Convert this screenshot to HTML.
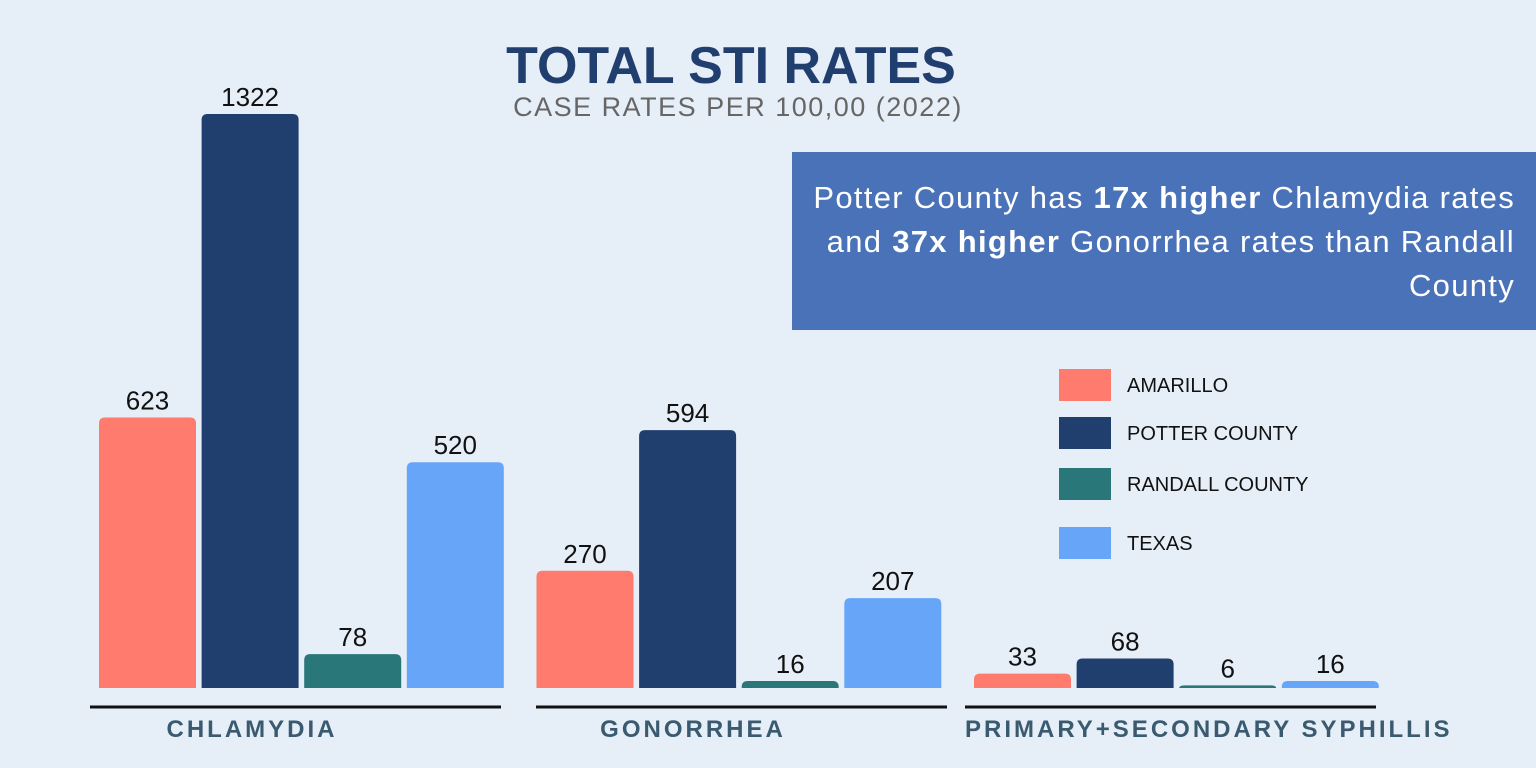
<!DOCTYPE html>
<html><head><meta charset="utf-8"><style>
body{margin:0;width:1536px;height:768px;background:#e6eef8;overflow:hidden;font-family:"Liberation Sans",sans-serif;position:relative}
.t{position:absolute;white-space:nowrap}
</style></head><body>
<div class="t" style="left:0;width:1462px;text-align:center;top:36px;font-size:52px;font-weight:bold;color:#213f6e">TOTAL STI RATES</div>
<div class="t" style="left:0;width:1476px;text-align:center;top:92px;font-size:27px;letter-spacing:1.5px;color:#666">CASE RATES PER 100,00 (2022)</div>
<div style="position:absolute;left:792px;top:152px;width:744px;height:178px;background:#4a72b8"></div>
<div class="t" style="right:21px;top:176px;text-align:right;font-size:31px;letter-spacing:1.3px;line-height:44px;color:#fff">Potter County has <b>17x higher</b> Chlamydia rates<br>and <b>37x higher</b> Gonorrhea rates than Randall<br>County</div>
<svg id="c" width="1536" height="768" style="position:absolute;left:0;top:0"></svg>
<script>
const categories=["CHLAMYDIA","GONORRHEA","PRIMARY+SECONDARY SYPHILLIS"];
const seriesNames=["AMARILLO","POTTER COUNTY","RANDALL COUNTY","TEXAS"];
const amarillo=[623,270,33];
const potter=[1322,594,68];
const randall=[78,16,6];
const texas=[520,207,16];
const colors=["#ff7b6e","#213f6e","#2a7779","#66a5f8"];
const series=[amarillo,potter,randall,texas];
const svg=document.getElementById('c');const NS="http://www.w3.org/2000/svg";
const base=688,scale=574/1322;
const y=v=>base-v*scale;
const gx=i=>99+i*437.5;
const bx=(i,s)=>gx(i)+s*102.6;
function mk(t,a){const e=document.createElementNS(NS,t);for(const k in a)e.setAttribute(k,a[k]);svg.appendChild(e);return e;}
const lineStart=[90,536,965];
const labelX=[252,693,965];
categories.forEach((c,i)=>{
 series.forEach((arr,s)=>{
  const v=arr[i],top=y(v),h=base-top;
  const r=mk('path',{d:`M${bx(i,s)},${base}V${top+Math.min(6,h)}Q${bx(i,s)},${top} ${bx(i,s)+6},${top}H${bx(i,s)+91}Q${bx(i,s)+97},${top} ${bx(i,s)+97},${top+Math.min(6,h)}V${base}Z`,fill:colors[s]});
  
  
  const t=mk('text',{x:bx(i,s)+48.5,y:top-8,'text-anchor':'middle','font-size':26,fill:'#111'});
  t.textContent=v;
  
  
 });
 const l=mk('line',{x1:lineStart[i],x2:lineStart[i]+411,y1:707,y2:707,stroke:'#111','stroke-width':3});
 
 
 const ct=mk('text',{x:labelX[i],y:737,'text-anchor':i==2?'start':'middle','font-size':24,'font-weight':'bold','letter-spacing':3,fill:'#3a5a70'});
 ct.textContent=c;
 
 
});
const ly=[369,417,468,527];
seriesNames.forEach((n,s)=>{
 const r=mk('rect',{x:1059,y:ly[s],width:52,height:32,fill:colors[s]});
 
 
 const t=mk('text',{x:1127,y:ly[s]+23,'font-size':20,fill:'#111'});
 t.textContent=n;
 
 
});
</script>
</body></html>
